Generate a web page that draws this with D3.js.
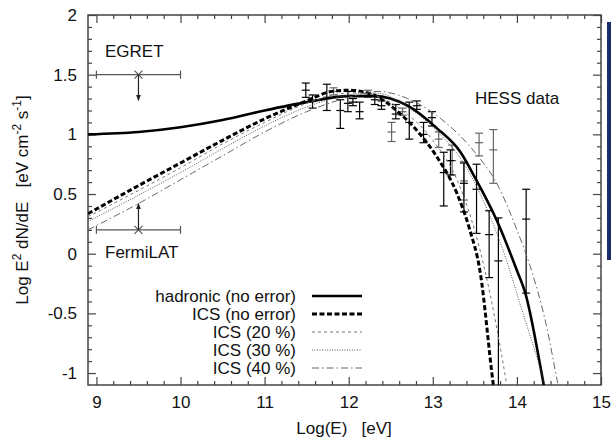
<!DOCTYPE html>
<html>
<head>
<meta charset="utf-8">
<script src="https://cdn.jsdelivr.net/npm/d3@7"></script>
<style>
  body { margin: 0; background: white; }
  svg text { font-family: "Liberation Sans", Arial, sans-serif; fill: #111; }
</style>
</head>
<body>
<div id="Canvas"></div>
<script>
// curves: Log(E) and Log E^2 dN/dE
let hadE = [8.9, 9.5, 10, 10.5, 11, 11.5, 12, 12.3, 12.7, 13.05, 13.33, 13.5, 13.76, 14.0, 14.1, 14.32, 14.4]
let hadY = [1.00, 1.02, 1.06, 1.12, 1.20, 1.27, 1.32, 1.32, 1.24, 1.05, 0.85, 0.64, 0.28, -0.14, -0.33, -1.1, -1.4]

let icsE = [8.9, 9.5, 10, 10.5, 11, 11.5, 11.8, 12.0, 12.3, 12.6, 12.85, 13.05, 13.29, 13.44, 13.56, 13.72, 13.78]
let icsY = [0.335, 0.57, 0.76, 0.95, 1.13, 1.28, 1.36, 1.37, 1.33, 1.18, 1.0, 0.81, 0.5, 0.2, -0.14, -1.1, -1.4]

let ics20E = [8.9, 9.5, 10, 10.5, 11, 11.5, 11.9, 12.1, 12.3, 12.6, 13.0, 13.3, 13.62, 13.88, 13.95]
let ics20Y = [0.31, 0.53, 0.72, 0.92, 1.10, 1.26, 1.34, 1.35, 1.33, 1.22, 0.95, 0.6, -0.14, -1.1, -1.4]

let ics30E = [8.9, 9.5, 10, 10.5, 11, 11.5, 12.0, 12.2, 12.4, 12.6, 13.0, 13.4, 13.7, 13.85, 14.05, 14.33, 14.4]
let ics30Y = [0.27, 0.49, 0.68, 0.88, 1.07, 1.23, 1.33, 1.35, 1.34, 1.27, 1.06, 0.72, 0.28, 0.0, -0.45, -1.1, -1.3]

let ics40E = [8.9, 9.5, 10, 10.5, 11, 11.5, 12.0, 12.35, 12.7, 13.15, 13.5, 13.76, 14.0, 14.16, 14.35, 14.49, 14.55]
let ics40Y = [0.20, 0.42, 0.62, 0.82, 1.02, 1.19, 1.31, 1.36, 1.30, 1.10, 0.85, 0.59, 0.20, -0.11, -0.6, -1.1, -1.3]

// HESS points: E, value, lower, upper
let hessE  = [11.49, 11.57, 11.74, 11.90, 11.99, 12.05, 12.13, 12.31, 12.39, 12.56, 12.72, 12.81, 12.89, 12.99, 13.13, 13.21, 13.37, 13.52, 13.67, 13.78, 14.11]
let hessY  = [1.37, 1.28, 1.31, 1.20, 1.26, 1.27, 1.19, 1.29, 1.24, 1.17, 1.10, 1.24, 1.00, 1.14, 0.68, 0.78, 0.59, 0.54, 0.16, -0.06, 0.29]
let hessLo = [1.31, 1.22, 1.20, 1.05, 1.19, 1.24, 1.13, 1.25, 1.21, 1.13, 0.96, 1.21, 0.93, 1.07, 0.40, 0.66, 0.35, 0.17, -0.20, -1.40, -0.33]
let hessHi = [1.43, 1.33, 1.42, 1.29, 1.36, 1.30, 1.27, 1.32, 1.28, 1.25, 1.27, 1.28, 1.10, 1.19, 0.85, 0.87, 0.76, 0.75, 0.36, 0.30, 0.54]

// second (grey) set of HESS points
let hess2E  = [11.82, 12.23, 12.51, 12.64, 13.07, 13.23, 13.37, 13.55, 13.72]
let hess2Y  = [1.36, 1.34, 1.02, 1.19, 0.96, 0.78, 0.61, 0.93, 0.87]
let hess2Lo = [1.33, 1.31, 0.94, 1.16, 0.89, 0.66, 0.45, 0.82, 0.59]
let hess2Hi = [1.39, 1.37, 1.10, 1.22, 1.02, 0.91, 0.77, 1.01, 1.04]

// upper limits: E range, value, arrow tip
let limNames = ["EGRET", "FermiLAT"]
let limE0 = [9, 9]
let limE1 = [10, 10]
let limY = [1.5, 0.2]
let limTip = [1.285, 0.42]

let xMajor = [9, 10, 11, 12, 13, 14, 15]
let yMajor = [-1, -0.5, 0, 0.5, 1, 1.5, 2]

let legendNames = ["hadronic (no error)", "ICS (no error)", "ICS (20 %)", "ICS (30 %)", "ICS (40 %)"]

let svg = d3.select("#Canvas").append("svg")
    .attr("width", 611).attr("height", 439)
    .style("background", "white")

let X = d3.scaleLinear().domain([8.9, 15]).range([88, 601])
let Y = d3.scaleLinear().domain([-1.1, 2]).range([385, 15])

svg.append("defs").append("clipPath").attr("id", "plotclip")
    .append("rect").attr("x", 88).attr("y", 15).attr("width", 513).attr("height", 370)

let xMinor = d3.range(9, 15.001, 0.2).filter(d => Math.abs(d - Math.round(d)) > 0.01)
let yMinor = d3.range(-1.0, 2.001, 0.1).filter(d => Math.abs(d * 2 - Math.round(d * 2)) > 0.01)

function addAxis(axisFn, scale, vals, size, tr, labels) {
    let a = axisFn(scale).tickValues(vals).tickSize(-size).tickSizeOuter(0).tickPadding(11)
    if (labels) a.tickFormat(d => String(d))
    else a.tickFormat("")
    let g = svg.append("g").attr("transform", tr).call(a)
    g.select(".domain").remove()
    g.selectAll("line").attr("stroke", "#444").attr("stroke-width", 1.2)
    g.selectAll("text").style("font-size", "17px").attr("fill", "#111")
        .style("font-family", "'Liberation Sans', Arial, sans-serif")
    return g
}
// bottom / left with labels, top / right mirror
addAxis(d3.axisBottom, X, xMajor, 8, "translate(0,385)", true)
addAxis(d3.axisBottom, X, xMinor, 4, "translate(0,385)", false)
addAxis(d3.axisTop, X, xMajor, 8, "translate(0,15)", false)
addAxis(d3.axisTop, X, xMinor, 4, "translate(0,15)", false)
addAxis(d3.axisLeft, Y, yMajor, 8, "translate(88,0)", true)
addAxis(d3.axisLeft, Y, yMinor, 4, "translate(88,0)", false)
addAxis(d3.axisRight, Y, yMajor, 8, "translate(601,0)", false)
addAxis(d3.axisRight, Y, yMinor, 4, "translate(601,0)", false)

svg.append("rect").attr("x", 88).attr("y", 15).attr("width", 513).attr("height", 370)
    .attr("fill", "none").attr("stroke", "#444").attr("stroke-width", 1.5)

// axis titles
svg.append("text").attr("x", 344).attr("y", 434).attr("text-anchor", "middle")
    .style("font-size", "17px").style("white-space", "pre").attr("xml:space", "preserve")
    .text("Log(E)   [eV]")

let yl = svg.append("text").attr("transform", "translate(28,200) rotate(-90)")
    .attr("text-anchor", "middle").style("font-size", "17px").attr("xml:space", "preserve")
yl.append("tspan").text("Log E")
yl.append("tspan").attr("dy", -7).style("font-size", "12px").text("2")
yl.append("tspan").attr("dy", 7).text(" dN/dE   [eV cm")
yl.append("tspan").attr("dy", -7).style("font-size", "12px").text("-2")
yl.append("tspan").attr("dy", 7).text(" s")
yl.append("tspan").attr("dy", -7).style("font-size", "12px").text("-1")
yl.append("tspan").attr("dy", 7).text("]")

// curves
let plot = svg.append("g").attr("clip-path", "url(#plotclip)")
let line = d3.line().x(d => X(d[0])).y(d => Y(d[1])).curve(d3.curveMonotoneX)

let curves = [
    { e: hadE, v: hadY, color: "#000", w: 2.6, dash: null },
    { e: icsE, v: icsY, color: "#000", w: 3, dash: "5,2.5" },
    { e: ics20E, v: ics20Y, color: "#777", w: 1, dash: "3,3" },
    { e: ics30E, v: ics30Y, color: "#555", w: 1, dash: "1,1.5" },
    { e: ics40E, v: ics40Y, color: "#666", w: 1, dash: "7,3,1.5,3" }
]

// error bars
function drawPoints(E, V, Lo, Hi, color) {
    let g = plot.append("g").attr("stroke", color).attr("stroke-width", 1.2)
    E.forEach(function (e, i) {
        let px = X(e)
        g.append("line").attr("x1", px).attr("x2", px).attr("y1", Y(Lo[i])).attr("y2", Y(Hi[i]))
        g.append("line").attr("x1", px - 4).attr("x2", px + 4).attr("y1", Y(Lo[i])).attr("y2", Y(Lo[i]))
        g.append("line").attr("x1", px - 4).attr("x2", px + 4).attr("y1", Y(Hi[i])).attr("y2", Y(Hi[i]))
        g.append("line").attr("x1", px - 4).attr("x2", px + 4).attr("y1", Y(V[i])).attr("y2", Y(V[i]))
    })
}
drawPoints(hess2E, hess2Y, hess2Lo, hess2Hi, "#666")
drawPoints(hessE, hessY, hessLo, hessHi, "#000")

curves.forEach(function (c) {
    plot.append("path")
        .attr("d", line(c.e.map((e, i) => [e, c.v[i]])))
        .attr("fill", "none").attr("stroke", c.color).attr("stroke-width", c.w)
        .attr("stroke-dasharray", c.dash)
})

// upper limits
svg.append("defs").append("marker").attr("id", "arrowhead")
    .attr("viewBox", "0 0 10 10").attr("refX", 9).attr("refY", 5)
    .attr("markerWidth", 7).attr("markerHeight", 5).attr("orient", "auto")
    .append("path").attr("d", "M0,1 L10,5 L0,9 Z").attr("fill", "#222")

limNames.forEach(function (n, i) {
    let g = svg.append("g").attr("stroke", "#555").attr("stroke-width", 1.2)
    let x0 = X(limE0[i]), x1 = X(limE1[i]), xm = X((limE0[i] + limE1[i]) / 2), yy = Y(limY[i])
    g.append("line").attr("x1", x0).attr("x2", x1).attr("y1", yy).attr("y2", yy)
    g.append("line").attr("x1", x0).attr("x2", x0).attr("y1", yy - 4).attr("y2", yy + 4)
    g.append("line").attr("x1", x1).attr("x2", x1).attr("y1", yy - 4).attr("y2", yy + 4)
    g.append("line").attr("x1", xm - 4).attr("x2", xm + 4).attr("y1", yy - 4).attr("y2", yy + 4)
    g.append("line").attr("x1", xm - 4).attr("x2", xm + 4).attr("y1", yy + 4).attr("y2", yy - 4)
    g.append("line").attr("x1", xm).attr("x2", xm).attr("y1", yy).attr("y2", Y(limTip[i]))
        .attr("stroke", "#222").attr("marker-end", "url(#arrowhead)")
})
svg.append("text").attr("x", 105).attr("y", 57).style("font-size", "17px").text(limNames[0])
svg.append("text").attr("x", 105).attr("y", 258).style("font-size", "17px").text(limNames[1])
svg.append("text").attr("x", 475).attr("y", 104).style("font-size", "17px").text("HESS data")

// legend
let lg = svg.append("g")
legendNames.forEach(function (n, i) {
    let cy = 296 + i * 18
    lg.append("text").attr("x", 296).attr("y", cy + 6).attr("text-anchor", "end")
        .style("font-size", "17px").text(n)
    lg.append("line").attr("x1", 312).attr("x2", 362).attr("y1", cy).attr("y2", cy)
        .attr("stroke", curves[i].color).attr("stroke-width", curves[i].w)
        .attr("stroke-dasharray", curves[i].dash)
})

// page border strip at the right edge
svg.append("rect").attr("x", 607).attr("y", 22).attr("width", 4).attr("height", 238).attr("fill", "#1b2c6b")
</script>
</body>
</html>
